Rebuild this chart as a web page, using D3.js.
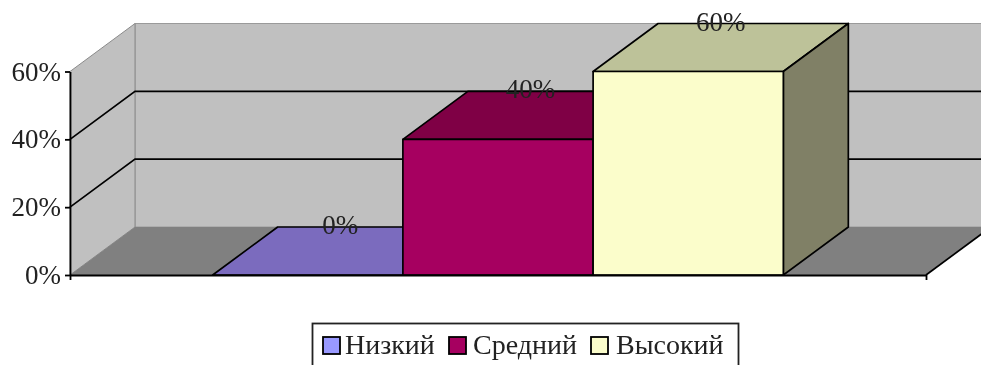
<!DOCTYPE html>
<html lang="ru">
<head>
<meta charset="utf-8">
<title>Уровни</title>
<script src="https://cdn.jsdelivr.net/npm/d3@7"></script>
<style>
html, body { margin: 0; padding: 0; background: #fff; overflow: hidden; }
svg { display: block; filter: blur(0.5px); }
text { font-family: "Liberation Serif", serif; fill: #222; }
</style>
</head>
<body>
<script>
// data
var categories = ["Низкий", "Средний", "Высокий"];
var values = [0, 40, 60];
var yTicks = [0, 20, 40, 60];
var gridTicks = [20, 40];

var frontColors = ["#9999FF", "#A60060", "#FBFDCB"];
var topColors = ["#7B6BBE", "#7F0045", "#BDC299"];
var sideColors = ["#6A5AA5", "#6E003D", "#808066"];

var w = 981, h = 365;
var depthX = 65, depthY = 48;	// shift of the back plane

var xScale = d3.scaleBand()
	.domain(categories)
	.range([70, 926])
	.paddingInner(0)
	.paddingOuter(0.75);

var yScale = d3.scaleLinear()
	.domain([0, 60])
	.range([275, 71.5]);

var svg = d3.select("body").append("svg")
	.attr("width", w)
	.attr("height", h);

var poly = function(pts) {
	return pts.map(function(p) { return p.join(","); }).join(" ");
};

var x0 = xScale.range()[0], x1 = xScale.range()[1];
var y0 = yScale(0), yTop = yScale(60);

// back wall
svg.append("polygon")
	.attr("points", poly([[x0 + depthX, yTop - depthY], [x1 + depthX, yTop - depthY], [x1 + depthX, y0 - depthY], [x0 + depthX, y0 - depthY]]))
	.attr("fill", "#C0C0C0")
	.attr("stroke", "#9a9a9a");

// left wall
svg.append("polygon")
	.attr("points", poly([[x0, yTop], [x0 + depthX, yTop - depthY], [x0 + depthX, y0 - depthY], [x0, y0]]))
	.attr("fill", "#C0C0C0")
	.attr("stroke", "#8a8a8a");

// floor
svg.append("polygon")
	.attr("points", poly([[x0, y0], [x0 + depthX, y0 - depthY], [x1 + depthX, y0 - depthY], [x1, y0]]))
	.attr("fill", "#808080");

// gridlines
svg.selectAll(".grid")
	.data(gridTicks)
	.enter()
	.append("polyline")
	.attr("class", "grid")
	.attr("fill", "none")
	.attr("stroke", "#000")
	.attr("stroke-width", 1.7)
	.attr("points", function(d) {
		var y = yScale(d);
		return poly([[x0, y], [x0 + depthX, y - depthY], [x1 + depthX, y - depthY]]);
	});

// bars
var bars = svg.selectAll(".bar")
	.data(values)
	.enter()
	.append("g")
	.attr("class", "bar")
	.attr("stroke", "#000")
	.attr("stroke-width", 1.7)
	.attr("stroke-linejoin", "round");

bars.append("polygon")
	.attr("fill", function(d, i) { return topColors[i]; })
	.attr("points", function(d, i) {
		var l = xScale(categories[i]), r = l + xScale.bandwidth(), y = yScale(d);
		return poly([[l, y], [l + depthX, y - depthY], [r + depthX, y - depthY], [r, y]]);
	});

bars.append("polygon")
	.attr("fill", function(d, i) { return sideColors[i]; })
	.attr("points", function(d, i) {
		var r = xScale(categories[i]) + xScale.bandwidth(), y = yScale(d);
		return poly([[r, y], [r + depthX, y - depthY], [r + depthX, y0 - depthY], [r, y0]]);
	});

bars.append("rect")
	.attr("fill", function(d, i) { return frontColors[i]; })
	.attr("x", function(d, i) { return xScale(categories[i]); })
	.attr("y", function(d) { return yScale(d); })
	.attr("width", xScale.bandwidth())
	.attr("height", function(d) { return y0 - yScale(d); });

// left axis
var yAxis = d3.axisLeft(yScale)
	.tickValues(yTicks)
	.tickSize(5)
	.tickPadding(4)
	.tickSizeOuter(0)
	.tickFormat(function(d) { return d + "%"; });

var yG = svg.append("g")
	.attr("transform", "translate(" + x0 + ",0)")
	.call(yAxis);
yG.selectAll("path, line").attr("stroke", "#000").attr("stroke-width", 1.8);
yG.selectAll("text")
	.attr("font-family", null)
	.style("font-size", "27px")
	.style("font-family", '"Liberation Serif", serif')
	.attr("fill", "#222");

// bottom axis, only the outer ticks
var xLine = d3.scaleLinear().domain([0, 1]).range([x0, x1]);
var xAxis = d3.axisBottom(xLine)
	.tickValues([0, 1])
	.tickSize(5)
	.tickSizeOuter(0)
	.tickFormat("");
var xG = svg.append("g")
	.attr("transform", "translate(0," + y0 + ")")
	.call(xAxis);
xG.selectAll("path, line").attr("stroke", "#000").attr("stroke-width", 1.8);

// floor front edge on the right side
svg.append("line")
	.attr("x1", x1).attr("y1", y0)
	.attr("x2", x1 + depthX).attr("y2", y0 - depthY)
	.attr("stroke", "#000")
	.attr("stroke-width", 1.7);

// value labels
svg.selectAll(".val")
	.data(values)
	.enter()
	.append("text")
	.attr("class", "val")
	.attr("text-anchor", "middle")
	.attr("font-size", 27)
	.attr("x", function(d, i) { return xScale(categories[i]) + xScale.bandwidth() / 2 + depthX / 2; })
	.attr("y", function(d) { return yScale(d) - depthY + 7; })
	.text(function(d) { return d + "%"; });

// legend
var legend = svg.append("g");
legend.append("rect")
	.attr("x", 312.5).attr("y", 323.5)
	.attr("width", 426).attr("height", 60)
	.attr("fill", "#fff")
	.attr("stroke", "#222")
	.attr("stroke-width", 1.8);

var swatchX = [323, 449, 591];
var labelX = [22, 24, 25];
var items = legend.selectAll(".item")
	.data(categories)
	.enter()
	.append("g")
	.attr("class", "item")
	.attr("transform", function(d, i) { return "translate(" + swatchX[i] + ",337)"; });

items.append("rect")
	.attr("width", 17).attr("height", 17)
	.attr("fill", function(d, i) { return frontColors[i]; })
	.attr("stroke", "#000")
	.attr("stroke-width", 1.8);

items.append("text")
	.attr("x", function(d, i) { return labelX[i]; })
	.attr("y", 17)
	.attr("font-size", 28)
	.text(function(d) { return d; });
</script>
</body>
</html>
